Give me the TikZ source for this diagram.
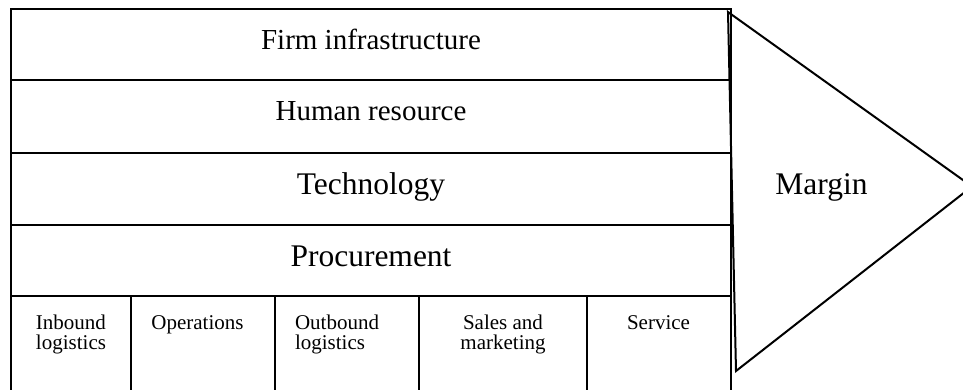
\documentclass[tikz,border=0pt]{standalone}
\usepackage{fontspec}
\setmainfont{Liberation Serif}
\begin{document}
\begin{tikzpicture}[x=1pt,y=-1pt,
  line/.style={draw=black,line width=2pt},
  big/.style={anchor=base,inner sep=0pt,font=\fontsize{31.5}{36}\selectfont},
  mid/.style={anchor=base,inner sep=0pt,font=\fontsize{29}{34}\selectfont},
  small/.style={anchor=base,inner sep=0pt,font=\fontsize{21}{20}\selectfont}]
\useasboundingbox (0,0) rectangle (963,390);
\clip (0,0) rectangle (963,390);
% outer frame and rows
\draw[line] (11,400) -- (11,9) -- (731,9) -- (731,400);
\draw[line] (11,80) -- (731,80);
\draw[line] (11,153) -- (731,153);
\draw[line] (11,225) -- (731,225);
\draw[line] (11,296) -- (731,296);
\foreach \x in {131,275,419,587} \draw[line] (\x,296) -- (\x,400);
% margin arrow
\coordinate (ta) at (728,12);
\coordinate (tb) at (972,186.5);
\coordinate (tc) at (736,371);
\draw[line,line join=miter] (ta) -- (tb) -- (tc) -- cycle;
% labels
\node[mid] (firm) at (371,50) {Firm infrastructure};
\node[mid] (hr) at (371,121) {Human resource};
\node[big] (tech) at (371,195) {Technology};
\node[big] (proc) at (371,266) {Procurement};
\node[big] (margin) at (821.5,194) {Margin};
\node[small,align=left] (inb) at (71,349) {Inbound\\logistics};
\node[small] (ops) at (197.5,329) {Operations};
\node[small,align=left] (outb) at (337,349) {Outbound\\logistics};
\node[small,align=center] (sales) at (503,349) {Sales and\\marketing};
\node[small] (serv) at (658.5,329) {Service};
\end{tikzpicture}
\end{document}
